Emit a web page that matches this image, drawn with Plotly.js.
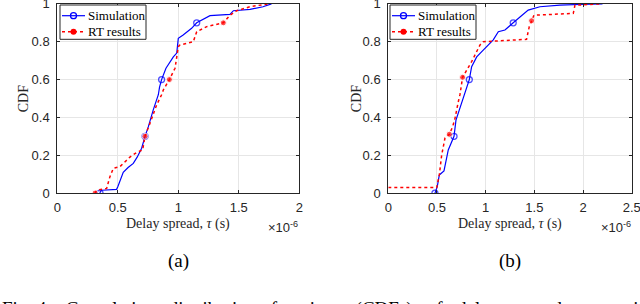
<!DOCTYPE html>
<html>
<head>
<meta charset="utf-8">
<script src="https://cdn.plot.ly/plotly-3.0.1.min.js"></script>
<style>html,body{margin:0;padding:0;background:#fff;}#chart{width:640px;height:304px;}</style>
</head>
<body>
<div id="chart"></div>
<script>
// ---- Data (delay spread in units of 1e-6 s, CDF values) ----
// Panel (a)
const simA_x = [0.353, 0.356, 0.37, 0.49, 0.50, 0.545, 0.585, 0.628, 0.66, 0.697, 0.725, 0.752, 0.793, 0.835, 0.845, 0.862, 0.898, 0.959, 0.987, 1.0, 1.04, 1.11, 1.152, 1.22, 1.262, 1.427, 1.455, 1.593, 1.70, 1.77];
const simA_y = [0, 0.01, 0.015, 0.02, 0.034, 0.11, 0.135, 0.157, 0.19, 0.237, 0.30, 0.35, 0.44, 0.52, 0.56, 0.60, 0.66, 0.72, 0.74, 0.818, 0.836, 0.871, 0.90, 0.924, 0.938, 0.945, 0.964, 0.971, 0.985, 1.0];
const simA_markIdx = [0, 10, 15, 22];
const rtA_x = [0.312, 0.325, 0.408, 0.435, 0.463, 0.518, 0.60, 0.656, 0.705, 0.725, 0.766, 0.821, 0.862, 0.876, 0.926, 0.973, 1.0, 1.014, 1.124, 1.152, 1.235, 1.345, 1.372, 1.427, 1.483, 1.593, 1.74];
const rtA_y = [0, 0.016, 0.025, 0.087, 0.131, 0.14, 0.19, 0.215, 0.228, 0.30, 0.369, 0.466, 0.52, 0.545, 0.60, 0.66, 0.774, 0.783, 0.80, 0.853, 0.88, 0.897, 0.90, 0.94, 0.964, 0.985, 1.0];
const rtA_markIdx = [0, 9, 14, 22];
// Panel (b)
const simB_x = [0.479, 0.503, 0.524, 0.572, 0.616, 0.651, 0.675, 0.695, 0.736, 0.77, 0.80, 0.832, 0.856, 0.908, 0.975, 1.078, 1.13, 1.198, 1.283, 1.352, 1.437, 1.557, 1.763, 1.968, 2.2];
const simB_y = [0, 0.034, 0.096, 0.117, 0.228, 0.272, 0.30, 0.386, 0.448, 0.50, 0.55, 0.60, 0.668, 0.72, 0.756, 0.81, 0.853, 0.862, 0.90, 0.932, 0.967, 0.985, 0.994, 0.997, 1.0];
const simB_markIdx = [0, 6, 11, 18];
const rtB_x = [0, 0.497, 0.524, 0.548, 0.582, 0.627, 0.661, 0.685, 0.719, 0.736, 0.763, 0.798, 0.856, 0.89, 0.942, 0.975, 1.42, 1.448, 1.472, 1.496, 1.90, 1.917, 2.17];
const rtB_y = [0.029, 0.029, 0.096, 0.20, 0.29, 0.311, 0.351, 0.395, 0.483, 0.52, 0.612, 0.642, 0.695, 0.73, 0.783, 0.80, 0.813, 0.88, 0.911, 0.94, 0.95, 0.993, 1.0];
const rtB_markIdx = [5, 10, 18];
// Labels
const seriesNames = ['Simulation', 'RT results'];
const yTicks = [0, 0.2, 0.4, 0.6, 0.8, 1];
const yTickText = ['0', '0.2', '0.4', '0.6', '0.8', '1'];
const xTicksA = [0, 0.5, 1, 1.5, 2];
const xTickTextA = ['0', '0.5', '1', '1.5', '2'];
const xTicksB = [0, 0.5, 1, 1.5, 2, 2.5];
const xTickTextB = ['0', '0.5', '1', '1.5', '2', '2.5'];
const xTitle = 'Delay spread, <i>τ</i> (s)';
const yTitle = 'CDF';
const expLabel = '×10<sup>-6</sup>';
const panelLabels = ['(a)', '(b)'];
const captionText = 'Fig. 4:&nbsp;&nbsp;&nbsp;Cumulative&nbsp;&nbsp;&nbsp;distribution&nbsp;&nbsp;&nbsp;functions&nbsp;&nbsp;&nbsp;(CDFs)&nbsp;&nbsp;&nbsp;of&nbsp;&nbsp;&nbsp;delay&nbsp;&nbsp;&nbsp;spread&nbsp;&nbsp;&nbsp;comparing';

// ---- Styles ----
const W = 640, H = 304;
const PX = x => x / W, PY = y => 1 - y / H;
const BLUE = '#0000ff', RED = '#ff0000';
const AX = '#262626', GRID = '#e6e6e6';
const SANS = 'Liberation Sans, Arial, Helvetica, sans-serif';
const SERIF = 'Liberation Serif, Times New Roman, serif';
const boxA = {l: 57.3, r: 299.3}, boxB = {l: 388.3, r: 631.7};
const yTop = 3.9, yBot = 193.1;

function sizes(n, idx, s) { const a = new Array(n).fill(0); idx.forEach(i => a[i] = s); return a; }

function simTrace(x, y, idx, xa, ya) {
  return {x: x, y: y, xaxis: xa, yaxis: ya, mode: 'lines+markers', name: seriesNames[0], showlegend: false,
    line: {color: BLUE, width: 1.2},
    marker: {symbol: 'circle-open', color: BLUE, size: sizes(x.length, idx, 6), line: {color: BLUE, width: 1.3}}};
}
function rtTrace(x, y, idx, xa, ya) {
  return {x: x, y: y, xaxis: xa, yaxis: ya, mode: 'lines+markers', name: seriesNames[1], showlegend: false,
    line: {color: RED, width: 1.5, dash: 'dot'},
    marker: {symbol: 'circle', color: RED, size: sizes(x.length, idx, 6)}};
}

const data = [
  simTrace(simA_x, simA_y, simA_markIdx, 'x', 'y'),
  rtTrace(rtA_x, rtA_y, rtA_markIdx, 'x', 'y'),
  simTrace(simB_x, simB_y, simB_markIdx, 'x2', 'y2'),
  rtTrace(rtB_x, rtB_y, rtB_markIdx, 'x2', 'y2')
];

function xAxis(box, ticks, text, range, anchor) {
  return {domain: [PX(box.l), PX(box.r)], range: range, anchor: anchor, tickvals: ticks, ticktext: text,
    showgrid: true, gridcolor: GRID, gridwidth: 1, zeroline: false, showline: true, linecolor: AX, linewidth: 1,
    mirror: 'ticks', ticks: 'inside', ticklen: 3, tickcolor: AX, tickfont: {family: SANS, size: 13, color: AX},
    ticklabelstandoff: 2, ticklabeloverflow: 'allow', fixedrange: true};
}
function yAxis(anchor) {
  return {domain: [PY(yBot), PY(yTop)], range: [0, 1], anchor: anchor, tickvals: yTicks, ticktext: yTickText,
    showgrid: true, gridcolor: GRID, gridwidth: 1, zeroline: false, showline: true, linecolor: AX, linewidth: 1,
    mirror: 'ticks', ticks: 'inside', ticklen: 3, tickcolor: AX, tickfont: {family: SANS, size: 13, color: AX},
    ticklabelstandoff: 4, ticklabeloverflow: 'allow', fixedrange: true};
}

const annotations = [];
const shapes = [];
function panelText(box, label, cdfX) {
  const cx = (box.l + box.r) / 2;
  annotations.push({xref: 'paper', yref: 'paper', x: PX(cx), y: PY(224), text: xTitle, showarrow: false,
    xanchor: 'center', yanchor: 'middle', font: {family: SERIF, size: 14, color: AX}});
  annotations.push({xref: 'paper', yref: 'paper', x: PX(cdfX), y: PY((yTop + yBot) / 2), text: yTitle, showarrow: false,
    textangle: -90, xanchor: 'center', yanchor: 'middle', font: {family: SERIF, size: 14, color: AX}});
  annotations.push({xref: 'paper', yref: 'paper', x: PX(box.r + 1), y: PY(227), text: expLabel, showarrow: false,
    xanchor: 'right', yanchor: 'middle', font: {family: SANS, size: 13, color: AX}});
  annotations.push({xref: 'paper', yref: 'paper', x: PX(cx), y: PY(261), text: label, showarrow: false,
    xanchor: 'center', yanchor: 'middle', font: {family: SERIF, size: 19, color: '#000'}});
}
panelText(boxA, panelLabels[0], 23.8);
panelText(boxB, panelLabels[1], 356.7);

function legend(bx) {
  shapes.push({type: 'rect', xref: 'paper', yref: 'paper', x0: PX(bx), x1: PX(bx + 86), y0: PY(39.3), y1: PY(5),
    fillcolor: '#fff', line: {color: AX, width: 1}, layer: 'above'});
  const l0 = bx + 2, l1 = bx + 25, rows = [15.7, 31.7];
  shapes.push({type: 'line', xref: 'paper', yref: 'paper', x0: PX(l0), x1: PX(l1), y0: PY(rows[0]), y1: PY(rows[0]),
    line: {color: BLUE, width: 1.2}, layer: 'above'});
  shapes.push({type: 'circle', xref: 'paper', yref: 'paper', xsizemode: 'pixel', ysizemode: 'pixel',
    xanchor: PX((l0 + l1) / 2), yanchor: PY(rows[0]), x0: -3, x1: 3, y0: -3, y1: 3,
    fillcolor: 'rgba(0,0,0,0)', line: {color: BLUE, width: 1.3}, layer: 'above'});
  shapes.push({type: 'line', xref: 'paper', yref: 'paper', x0: PX(l0), x1: PX(l1), y0: PY(rows[1]), y1: PY(rows[1]),
    line: {color: RED, width: 1.5, dash: 'dot'}, layer: 'above'});
  shapes.push({type: 'circle', xref: 'paper', yref: 'paper', xsizemode: 'pixel', ysizemode: 'pixel',
    xanchor: PX((l0 + l1) / 2), yanchor: PY(rows[1]), x0: -3, x1: 3, y0: -3, y1: 3,
    fillcolor: RED, line: {color: RED, width: 0}, layer: 'above'});
  seriesNames.forEach((n, i) => annotations.push({xref: 'paper', yref: 'paper', x: PX(bx + 26), y: PY(rows[i]),
    text: n, showarrow: false, xanchor: 'left', yanchor: 'middle', font: {family: SERIF, size: 13, color: '#000'}}));
}
legend(60);
legend(390);

annotations.push({xref: 'paper', yref: 'paper', x: 0, y: PY(309.3), text: captionText, showarrow: false,
  xanchor: 'left', yanchor: 'middle', font: {family: SERIF, size: 19, color: '#000'}});

const layout = {
  width: W, height: H, margin: {l: 0, r: 0, t: 0, b: 0}, paper_bgcolor: '#fff', plot_bgcolor: '#fff',
  showlegend: false,
  xaxis: xAxis(boxA, xTicksA, xTickTextA, [0, 2], 'y'),
  yaxis: yAxis('x'),
  xaxis2: xAxis(boxB, xTicksB, xTickTextB, [0, 2.5], 'y2'),
  yaxis2: yAxis('x2'),
  annotations: annotations, shapes: shapes
};
Plotly.newPlot('chart', data, layout, {displayModeBar: false, staticPlot: true});
</script>
</body>
</html>
